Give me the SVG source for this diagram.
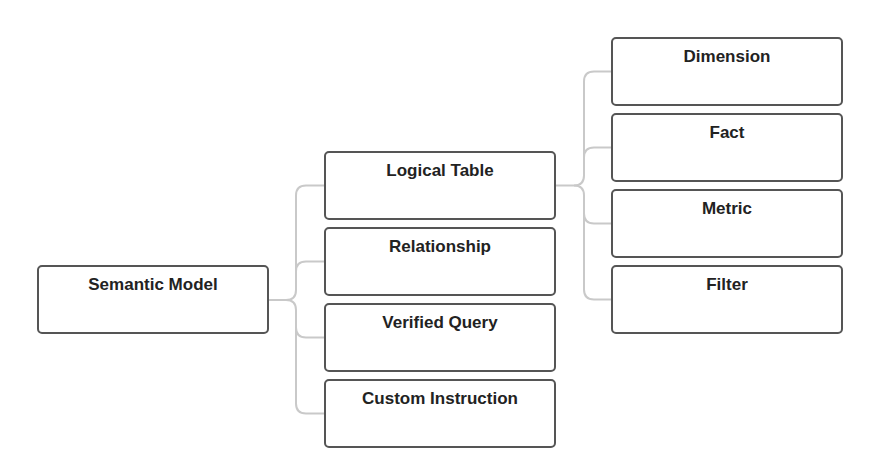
<svg xmlns="http://www.w3.org/2000/svg" width="873" height="471" viewBox="0 0 873 471">
<style>
.box{fill:#fff;stroke:#555;stroke-width:2}
.lbl{font-family:"Liberation Sans",Arial,sans-serif;font-weight:bold;font-size:17px;fill:#222;text-anchor:middle}
.conn{fill:none;stroke:#c9c9c9;stroke-width:2}
</style>
<rect width="873" height="471" fill="#fff"/>
<g id="connectors">
<path class="conn" d="M268,300 H286 Q296,300 296,290 V195.5 Q296,185.5 306,185.5 H325"/>
<path class="conn" d="M286,300 Q296,300 296,310 V403.5 Q296,413.5 306,413.5 H325"/>
<path class="conn" d="M296,271.5 Q296,261.5 306,261.5 H325"/>
<path class="conn" d="M296,327.5 Q296,337.5 306,337.5 H325"/>
<path class="conn" d="M555,185.5 H574 Q584,185.5 584,175.5 V81.5 Q584,71.5 594,71.5 H612"/>
<path class="conn" d="M574,185.5 Q584,185.5 584,195.5 V289.5 Q584,299.5 594,299.5 H612"/>
<path class="conn" d="M584,157.5 Q584,147.5 594,147.5 H612"/>
<path class="conn" d="M584,213.5 Q584,223.5 594,223.5 H612"/>
</g>
<g id="semantic-model"><rect class="box" x="38" y="266" width="230" height="67" rx="4"/><text class="lbl" x="153" y="290">Semantic Model</text></g>
<g id="logical-table"><rect class="box" x="325" y="152" width="230" height="67" rx="4"/><text class="lbl" x="440" y="176">Logical Table</text></g>
<g id="relationship"><rect class="box" x="325" y="228" width="230" height="67" rx="4"/><text class="lbl" x="440" y="252">Relationship</text></g>
<g id="verified-query"><rect class="box" x="325" y="304" width="230" height="67" rx="4"/><text class="lbl" x="440" y="328">Verified Query</text></g>
<g id="custom-instruction"><rect class="box" x="325" y="380" width="230" height="67" rx="4"/><text class="lbl" x="440" y="404">Custom Instruction</text></g>
<g id="dimension"><rect class="box" x="612" y="38" width="230" height="67" rx="4"/><text class="lbl" x="727" y="62">Dimension</text></g>
<g id="fact"><rect class="box" x="612" y="114" width="230" height="67" rx="4"/><text class="lbl" x="727" y="138">Fact</text></g>
<g id="metric"><rect class="box" x="612" y="190" width="230" height="67" rx="4"/><text class="lbl" x="727" y="214">Metric</text></g>
<g id="filter"><rect class="box" x="612" y="266" width="230" height="67" rx="4"/><text class="lbl" x="727" y="290">Filter</text></g>
</svg>
